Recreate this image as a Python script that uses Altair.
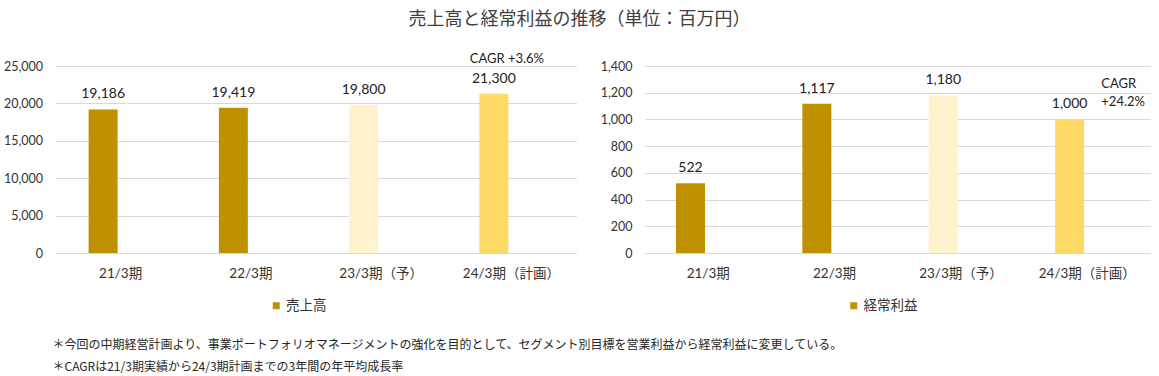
import altair as alt
import pandas as pd

categories = ["21/3期", "22/3期", "23/3期（予）", "24/3期（計画）"]
sales = [19186, 19419, 19800, 21300]
profit = [522, 1117, 1180, 1000]
sales_series = ["売上高", "売上高", "売上高（予）", "売上高（計画）"]
profit_series = ["経常利益", "経常利益", "経常利益（予）", "経常利益（計画）"]
bar_colors = ["#BF9000", "#FFF2CC", "#FFD966"]
sales_ticks = [0, 5000, 10000, 15000, 20000, 25000]
profit_ticks = [0, 200, 400, 600, 800, 1000, 1200, 1400]
sales_cagr = "CAGR +3.6%"
profit_cagr = "CAGR\n+24.2%"
title_text = "売上高と経常利益の推移（単位：百万円）"
footnotes = [
    "＊今回の中期経営計画より、事業ポートフォリオマネージメントの強化を目的として、セグメント別目標を営業利益から経常利益に変更している。",
    "＊CAGRは21/3期実績から24/3期計画までの3年間の年平均成長率",
]

FONT = "Lato, Noto Sans CJK JP"
TXT = "#333333"


def panel(values, series, ticks, width, bar_dx, legend_x, cagr_text, cagr_dx, cagr_dy, cagr_align):
    df = pd.DataFrame({"期": categories, "値": values, "系列": series})
    x = alt.X(
        "期:N", sort=categories,
        scale=alt.Scale(paddingInner=0, paddingOuter=0),
        axis=alt.Axis(title=None, labelAngle=0, ticks=False, domain=False,
                      labelFont=FONT, labelFontSize=13.5, labelColor=TXT,
                      labelPadding=13),
    )
    y = alt.Y(
        "値:Q",
        scale=alt.Scale(domain=[ticks[0], ticks[-1]], nice=False),
        axis=alt.Axis(title=None, values=ticks, format=",.0f", ticks=False,
                      domain=False, gridColor="#D9D9D9", gridWidth=1,
                      labelFont=FONT, labelFontSize=12.5, labelColor=TXT,
                      labelPadding=13),
    )
    base = alt.Chart(df)
    bars = base.mark_bar(width=29, xOffset=bar_dx).encode(
        x=x, y=y,
        color=alt.Color(
            "系列:N",
            scale=alt.Scale(domain=[series[0], series[2], series[3]], range=bar_colors),
            legend=alt.Legend(title=None, values=[series[0]], orient="none",
                              legendX=legend_x, legendY=233, padding=0,
                              symbolType="square", symbolSize=49,
                              symbolStrokeWidth=0, labelOffset=3,
                              labelFont=FONT, labelFontSize=13.5,
                              labelColor=TXT),
        ),
    )
    labels = base.mark_text(xOffset=bar_dx, dy=-11, baseline="alphabetic",
                            font=FONT, fontSize=14, color="#222222").encode(
        x=x, y=y, text=alt.Text("値:Q", format=",.0f"))
    cdf = pd.DataFrame({"期": [categories[3]], "値": [values[3]], "t": [cagr_text]})
    cagr = alt.Chart(cdf).mark_text(
        xOffset=cagr_dx, dy=cagr_dy, align=cagr_align, baseline="alphabetic",
        lineBreak="\n", lineHeight=18, font=FONT, fontSize=13, color="#222222",
    ).encode(x=x, y=y, text="t:N")
    return [bars, labels, cagr]


left_layers = panel(sales, sales_series, sales_ticks, 521, -17.5, 214, sales_cagr, -4.5, -31, "center")
right_layers = panel(profit, profit_series, profit_ticks, 505.5, -17.7, 202, profit_cagr, 14, -31, "left")

title_layer = alt.Chart(pd.DataFrame({"t": [title_text]})).mark_text(
    align="center", baseline="middle", font=FONT, fontSize=18, color="#404040"
).encode(x=alt.value(524), y=alt.value(-46), text="t:N")

foot_layer = alt.Chart(pd.DataFrame({"t": ["\n".join(footnotes)]})).mark_text(
    align="left", baseline="middle", lineBreak="\n", lineHeight=22,
    font="Noto Sans CJK JP", fontSize=12, color="#262626"
).encode(x=alt.value(-3), y=alt.value(279), text="t:N")

left = alt.layer(*left_layers, title_layer, foot_layer).properties(width=521, height=187)
right = alt.layer(*right_layers).properties(width=505.5, height=187)

chart = alt.hconcat(left, right, spacing=68.5, bounds="flush").resolve_scale(
    x="independent", y="independent", color="independent"
).properties(
    padding={"left": 2.5, "top": 11, "right": 0, "bottom": 0},
    background="white",
).configure_view(stroke=None)

chart.save("out.html", embed_options={"renderer": "svg", "actions": False})
